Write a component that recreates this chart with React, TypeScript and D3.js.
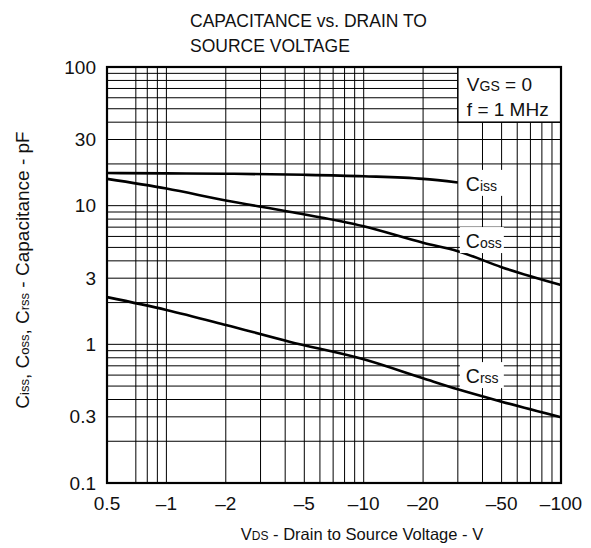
import React from "react";
import * as d3 from "d3";

const cissV = [0.5, 1, 2, 5, 10, 20, 30];
const cissC = [17.2, 17.1, 17.0, 16.7, 16.3, 15.6, 14.7];
const cossV = [0.5, 1, 2, 4.2, 10, 20, 30, 50, 100];
const cossC = [15.6, 13.3, 10.9, 9.05, 7.1, 5.4, 4.7, 3.6, 2.68];
const crssV = [0.5, 1, 2, 4.2, 10, 20, 30, 50, 100];
const crssC = [2.19, 1.77, 1.38, 1.045, 0.78, 0.569, 0.474, 0.386, 0.298];

const xTicks = [0.5, 1, 2, 5, 10, 20, 50, 100];
const xTickLabels = ["0.5", "\u20131", "\u20132", "\u20135", "\u201310", "\u201320", "\u201350", "\u2013100"];
const yTicks = [0.1, 0.3, 1, 3, 10, 30, 100];
const yTickLabels = ["0.1", "0.3", "1", "3", "10", "30", "100"];
const xGrid = [0.7, 0.8, 0.9, 1, 2, 3, 4, 5, 6, 7, 8, 9, 10, 20, 30, 40, 50, 60, 70, 80, 90];
const yGrid = [0.2, 0.3, 0.4, 0.5, 0.6, 0.7, 0.8, 0.9, 1, 2, 3, 4, 5, 6, 7, 8, 9, 10, 20, 30, 40, 50, 60, 70, 80, 90];

const labelNames = ["iss", "oss", "rss"];
const labelV = [30, 30, 30];
const labelC = [14.6, 5.65, 0.6];

const W = 591, H = 548;
const L = 107, R = 561, T = 67, B = 483;
const FONT = "'Liberation Sans', Arial, Helvetica, sans-serif";

export default function App() {
  const x = d3.scaleLog().domain([0.5, 100]).range([L, R]);
  const y = d3.scaleLog().domain([0.1, 100]).range([B, T]);
  const line = d3.line<[number, number]>().x(d => x(d[0])).y(d => y(d[1])).curve(d3.curveMonotoneX);
  const series = [
    cissV.map((v, i) => [v, cissC[i]] as [number, number]),
    cossV.map((v, i) => [v, cossC[i]] as [number, number]),
    crssV.map((v, i) => [v, crssC[i]] as [number, number]),
  ];
  const legX = x(30);
  const legY = y(40);
  return (
    <svg width={W} height={H} style={{ position: "absolute", left: 0, top: 0, background: "#fff" }} fontFamily={FONT}>
      <rect x={0} y={0} width={W} height={H} fill="#fff" />
      <text x={190} y={27} fontSize={17.5} fill="#111">CAPACITANCE vs. DRAIN TO</text>
      <text x={190} y={52} fontSize={17.5} fill="#111">SOURCE VOLTAGE</text>
      {xGrid.map(v => (
        <line key={"xg" + v} x1={x(v)} x2={x(v)} y1={T} y2={B} stroke="#000" strokeWidth={1} />
      ))}
      {yGrid.map(v => (
        <line key={"yg" + v} x1={L} x2={R} y1={y(v)} y2={y(v)} stroke="#000" strokeWidth={1} />
      ))}
      {series.map((s, i) => (
        <path key={"s" + i} d={line(s) || ""} fill="none" stroke="#000" strokeWidth={2.6} />
      ))}
      {labelNames.map((n, i) => (
        <g key={"lb" + n}>
          <rect x={x(labelV[i]) + 2} y={y(labelC[i]) - 13} width={44} height={26} fill="#fff" />
          <text x={x(labelV[i]) + 8} y={y(labelC[i]) + 8} fontSize={19.5} fill="#111">
            C<tspan fontSize={14}>{n}</tspan>
          </text>
        </g>
      ))}
      <rect x={legX} y={T} width={R - legX} height={legY - T} fill="#fff" stroke="#000" strokeWidth={1.5} />
      <text x={legX + 9} y={T + 24} fontSize={19} fill="#111">V<tspan fontSize={14}>GS</tspan> = 0</text>
      <text x={legX + 9} y={T + 49} fontSize={19} fill="#111">f = 1 MHz</text>
      <rect x={L} y={T} width={R - L} height={B - T} fill="none" stroke="#000" strokeWidth={2.2} />
      {xTicks.map((v, i) => (
        <text key={"xt" + v} x={x(v)} y={B + 27} fontSize={19} textAnchor="middle" fill="#111">{xTickLabels[i]}</text>
      ))}
      {yTicks.map((v, i) => (
        <text key={"yt" + v} x={L - 11} y={y(v) + 6.5} fontSize={19} textAnchor="end" fill="#111">{yTickLabels[i]}</text>
      ))}
      <text x={362} y={B + 57} fontSize={16.5} textAnchor="middle" fill="#111">
        V<tspan fontSize={12}>DS</tspan> - Drain to Source Voltage - V
      </text>
      <text transform={`translate(29, ${(T + B) / 2 - 5}) rotate(-90)`} fontSize={19} textAnchor="middle" fill="#111">
        C<tspan fontSize={13}>iss</tspan>, C<tspan fontSize={13}>oss</tspan>, C<tspan fontSize={13}>rss</tspan> - Capacitance - pF
      </text>
    </svg>
  );
}
